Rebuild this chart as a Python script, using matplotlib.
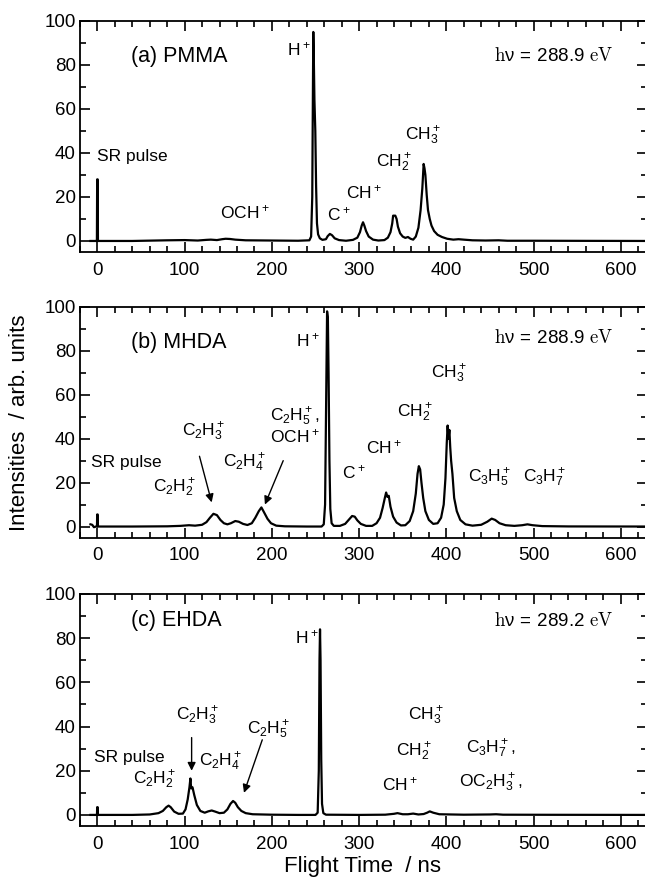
import numpy as np
import matplotlib
matplotlib.use('Agg')
import matplotlib.pyplot as plt
from matplotlib.ticker import MultipleLocator

plt.rcParams['font.family'] = ['Liberation Sans', 'DejaVu Sans']
plt.rcParams['mathtext.default'] = 'regular'

# traces: (flight time / ns, intensity)
pmma_trace = [(-8, 0), (-2, 0), (-0.6, 0), (-0.3, 28), (0.3, 28), (0.6, 0), (2, 0),
              (40, 0), (80, 0.3), (100, 0.4), (115, 0.2), (125, 0.5), (130, 0.6),
              (137, 0.4), (143, 0.8), (147, 1.0), (152, 0.9), (158, 0.6), (170, 0.3),
              (200, 0.2), (230, 0.1), (243, 0.3), (245, 2), (246.3, 20), (247, 65),
              (247.5, 95), (248.2, 80), (248.8, 64), (249.8, 50), (250.7, 25),
              (251.7, 8), (253, 3), (255, 1.2), (258, 0.5), (262, 0.8), (264, 2.2),
              (266.5, 3.2), (269, 2.6), (272, 1.2), (277, 0.4), (285, 0.1), (293, 0.5),
              (298, 1.5), (301, 4), (303, 7), (304.5, 8.5), (306, 7), (308, 4.5),
              (311, 2), (316, 0.6), (322, 0.2), (329, 0.4), (333, 1.5), (336, 4),
              (338, 8), (339, 11.5), (341.5, 11.5), (343, 10), (344.5, 6.5),
              (347, 3.5), (350, 2), (353, 1.4), (356, 1.8), (359, 1), (362, 0.6),
              (365, 2), (368, 6), (370.5, 14), (372.5, 24), (374, 35), (375, 33),
              (376, 30), (377.5, 21), (379, 14), (381, 10), (383, 7), (386, 4.5),
              (390, 2.8), (395, 1.8), (401, 1.0), (408, 0.6), (414, 0.8), (420, 0.6),
              (430, 0.3), (445, 0.2), (460, 0.3), (470, 0.1), (500, 0.1), (560, 0.05),
              (630, 0)]

mhda_trace = [(-8, 1.0), (-6, 0.8), (-4, -0.3), (-1.5, 0), (-0.5, 0), (-0.3, 5.5),
              (0.3, 5.5), (0.6, 0), (2, 0), (40, 0), (80, 0.1), (95, 0.3), (105, 0.6),
              (112, 0.4), (120, 0.8), (125, 2), (129, 4), (133, 5.8), (137, 5.2),
              (141, 3), (145, 1.5), (149, 1.0), (153, 1.5), (158, 2.5), (162, 2.2),
              (167, 1.2), (172, 0.7), (177, 1.5), (181, 4), (185, 7), (188, 8.7),
              (191, 6.5), (195, 3.5), (199, 1.5), (205, 0.4), (215, 0.1), (240, 0),
              (257, 0), (259.5, 1), (261, 10), (262.3, 60), (263.3, 98), (264.2, 95),
              (265, 70), (266, 30), (267, 8), (268.5, 1.5), (271, 0.3), (278, 0.3),
              (284, 1.2), (288, 3), (292, 4.8), (295, 4.5), (298, 2.8), (302, 1.2),
              (308, 0.3), (315, 0.3), (320, 1.5), (324, 4), (327, 8.5), (329.5, 13),
              (331, 15.5), (332.5, 13.5), (334, 14), (336, 9), (339, 4.5), (343, 1.8),
              (348, 0.5), (353, 0.6), (358, 2.5), (362, 7), (365, 15), (367, 24),
              (368.5, 27.5), (370, 26), (371.5, 20), (373.5, 13), (376, 7),
              (380, 3), (385, 1.2), (390, 1.5), (394, 4), (397, 10), (399, 22),
              (400.5, 38), (401.5, 46), (402.5, 40), (403.5, 44), (404.5, 36),
              (405.5, 30), (407, 24), (409, 13), (412, 7), (416, 3), (422, 1),
              (430, 0.4), (440, 0.8), (447, 2.2), (452, 3.6), (456, 3.0), (461, 1.5),
              (468, 0.6), (478, 0.3), (487, 0.6), (493, 1.0), (499, 0.6), (510, 0.2),
              (540, 0.05), (630, 0)]

ehda_trace = [(-8, 0), (-2, 0), (-0.5, 0), (-0.3, 3.5), (0.3, 3.5), (0.6, 0),
              (2, 0), (40, 0), (60, 0.2), (70, 0.8), (75, 1.8), (79, 3.5),
              (81.6, 4.2), (84, 3.5), (88, 1.5), (93, 0.5), (98, 0.6), (101, 2.5),
              (103.5, 7), (105.5, 12.5), (106.6, 16.5), (107.5, 12), (109, 12.5),
              (111, 9), (114, 4.5), (118, 1.8), (123, 1.0), (127, 1.6), (131, 2.0),
              (135, 1.5), (140, 0.8), (145, 1.0), (149, 2.5), (152.5, 5),
              (155.5, 6.3), (158, 5.5), (161, 3.5), (165, 1.8), (170, 0.8),
              (178, 0.3), (200, 0.1), (230, 0), (250, 0), (252.5, 1), (253.8, 20),
              (254.6, 70), (255.2, 84), (255.8, 70), (256.6, 25), (257.5, 5),
              (259, 0.8), (262, 0.1), (300, 0), (330, 0.1), (340, 0.5), (344, 0.8),
              (350, 0.3), (356, 0.3), (362, 0.6), (368, 0.2), (374, 0.4), (378, 1.0),
              (381, 1.6), (385, 1.0), (392, 0.3), (420, 0.1), (450, 0.2), (457, 0.3),
              (465, 0.1), (520, 0.05), (630, 0)]

panel_titles = ['(a) PMMA', '(b) MHDA', '(c) EHDA']
photon_energies = [r'$\mathrm{h}\nu\,=\,288.9\ \mathrm{eV}$',
                   r'$\mathrm{h}\nu\,=\,288.9\ \mathrm{eV}$',
                   r'$\mathrm{h}\nu\,=\,289.2\ \mathrm{eV}$']

# ion labels: (text, x, y) in data units, left-aligned
pmma_labels = [('SR pulse', 0, 38.5), ('OCH$^+$', 140, 13), ('H$^+$', 217, 87),
               ('C$^+$', 263, 12), ('CH$^+$', 285, 22), ('CH$_2^+$', 319, 35.5),
               ('CH$_3^+$', 353, 48)]
mhda_labels = [('SR pulse', -7, 29), ('C$_2$H$_2^+$', 64, 17.5),
               ('C$_2$H$_3^+$', 97, 43), ('C$_2$H$_4^+$', 144, 29),
               ('C$_2$H$_5^+$,\nOCH$^+$', 198, 46), ('H$^+$', 228, 85),
               ('C$^+$', 280, 24.5), ('CH$^+$', 308, 36), ('CH$_2^+$', 344, 52),
               ('CH$_3^+$', 382, 69.5), ('C$_3$H$_5^+$', 425, 22),
               ('C$_3$H$_7^+$', 488, 22)]
ehda_labels = [('SR pulse', -4, 26), ('C$_2$H$_2^+$', 41, 16),
               ('C$_2$H$_3^+$', 90, 45), ('C$_2$H$_4^+$', 116, 24),
               ('C$_2$H$_5^+$', 172, 38.5), ('H$^+$', 227, 80.5),
               ('CH$_3^+$', 356, 45), ('CH$_2^+$', 342, 28.5), ('CH$^+$', 326, 14),
               ('C$_3$H$_7^+$,', 422, 30), ('OC$_2$H$_3^+$,', 414, 14.5)]

# arrows: (tail x, tail y, head x, head y)
mhda_arrows = [(117, 32, 131, 11), (213, 30, 192, 10)]
ehda_arrows = [(108, 35, 108, 20), (189, 34, 168, 10)]

traces = [pmma_trace, mhda_trace, ehda_trace]
labels = [pmma_labels, mhda_labels, ehda_labels]
arrows = [[], mhda_arrows, ehda_arrows]
axes_rects = [[0.124, 0.7127, 0.879, 0.2634],
              [0.124, 0.3871, 0.879, 0.2629],
              [0.124, 0.0582, 0.879, 0.2645]]

fig = plt.figure(figsize=(6.45, 8.77), dpi=100)

for i in range(3):
    ax = fig.add_axes(axes_rects[i])
    t, y = np.array(traces[i]).T
    ax.plot(t, y, color='black', lw=1.6)

    ax.set_xlim(-20, 630)
    ax.set_ylim(-5, 100)
    ax.xaxis.set_major_locator(MultipleLocator(100))
    ax.xaxis.set_minor_locator(MultipleLocator(20))
    ax.yaxis.set_major_locator(MultipleLocator(20))
    ax.yaxis.set_minor_locator(MultipleLocator(10))
    ax.tick_params(which='both', direction='in', top=True, right=True,
                   width=1.2, labelsize=13.5)
    ax.tick_params(which='major', length=7)
    ax.tick_params(which='minor', length=4)
    ax.tick_params(axis='x', pad=7)
    ax.tick_params(axis='y', pad=3)
    for sp in ax.spines.values():
        sp.set_linewidth(1.3)

    ax.text(38, 84 if i < 2 else 88, panel_titles[i], fontsize=15.5,
            ha='left', va='center')
    ax.text(455, 84 if i == 0 else (86 if i == 1 else 88), photon_energies[i],
            fontsize=13.5, ha='left', va='center', math_fontfamily='cm')

    for txt, lx, ly in labels[i]:
        ax.text(lx, ly, txt, fontsize=12.5, ha='left', va='center',
                linespacing=1.0)
    for x0, y0, x1, y1 in arrows[i]:
        ax.annotate('', xy=(x1, y1), xytext=(x0, y0),
                    arrowprops=dict(arrowstyle='-|>', color='black', lw=1.0,
                                    mutation_scale=12, shrinkA=0, shrinkB=0))

fig.text(0.03, 0.5185, 'Intensities  / arb. units', rotation=90,
         ha='center', va='center', fontsize=16)
fig.text(0.562, 0.012, 'Flight Time  / ns', ha='center', va='center',
         fontsize=16)

fig.savefig('out.png', dpi=100)
